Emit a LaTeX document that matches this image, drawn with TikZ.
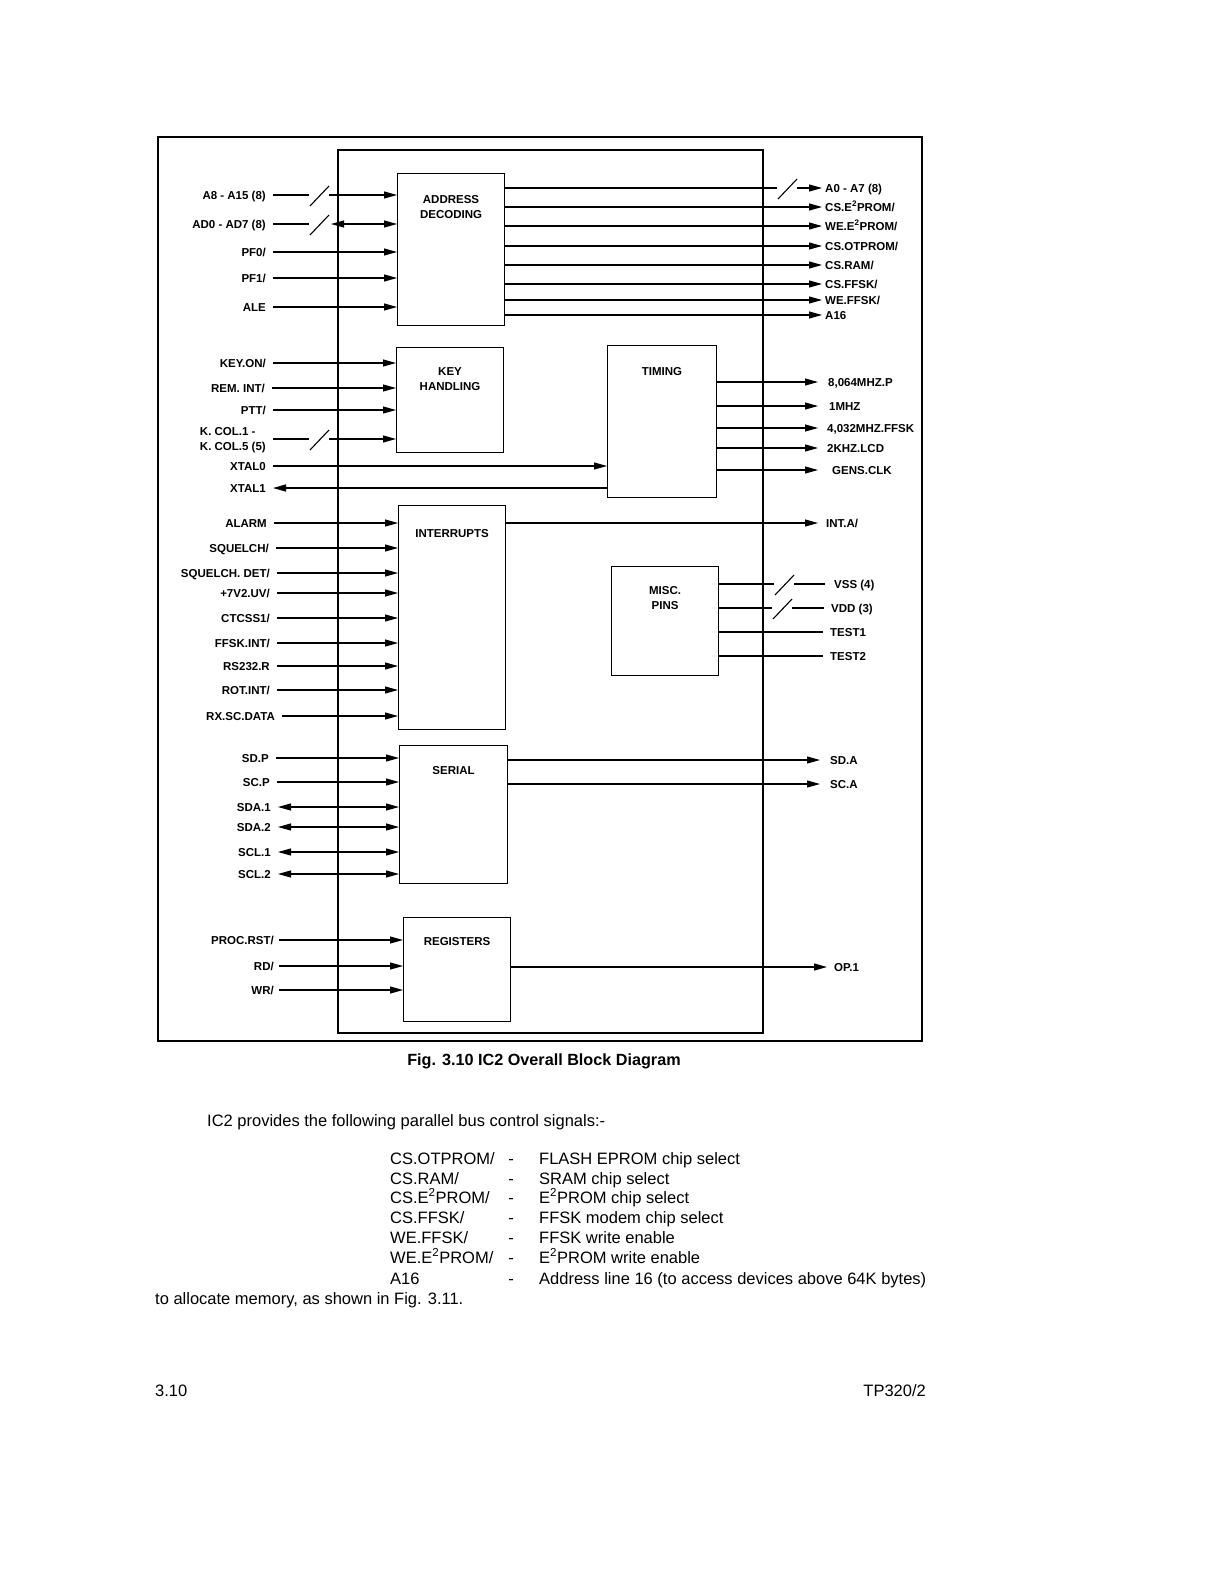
\documentclass[tikz,border=0pt]{standalone}
\usepackage{fontspec}
\setmainfont{Liberation Sans}
\usetikzlibrary{arrows.meta,positioning}

\begin{document}
\begin{tikzpicture}[
  x=1pt, y=-1pt,
  wire/.style={line width=1.1pt},
  arr/.style={wire, -{Triangle[length=13pt,width=7pt]}},
  biarr/.style={wire, {Triangle[length=13pt,width=7pt]}-{Triangle[length=13pt,width=7pt]}},
  larr/.style={wire, {Triangle[length=13pt,width=7pt]}-},
  blk/.style={draw, line width=1.1pt, anchor=north west, minimum width=107pt,
    inner sep=0pt},
  blktxt/.style={font=\bfseries\fontsize{11.5}{15}\selectfont, align=center,
    inner sep=0pt},
  inlbl/.style={anchor=east, font=\bfseries\fontsize{11.5}{15}\selectfont,
    inner xsep=7pt, inner ysep=1pt, text height=8pt, text depth=0pt},
  outlbl/.style={anchor=west, font=\bfseries\fontsize{11.5}{15}\selectfont,
    inner xsep=3pt, inner ysep=1pt, text height=8pt, text depth=0pt},
  body/.style={anchor=base west, font=\fontsize{16.5}{19}\selectfont, inner sep=0pt},
  busslash/.pic={\fill[white] (-10,-2.5) rectangle (10,2.5);
    \draw[wire] (-9,11) -- (10,-9);},
]
\useasboundingbox (0,0) rectangle (1224,1584);

% frames
\draw[line width=1.2pt] (158,137) rectangle (922,1041);
\draw[line width=1.1pt] (338,150) rectangle (763,1033);

% blocks
\node[blk, minimum height=152pt] (adec) at (397,173) {};
\node[blk, minimum height=105pt] (keyh) at (396,347) {};
\node[blk, minimum width=109pt, minimum height=152pt] (tim) at (607,345) {};
\node[blk, minimum height=224pt] (intr) at (398,505) {};
\node[blk, minimum height=109pt] (misc) at (611,566) {};
\node[blk, minimum width=108pt, minimum height=138pt] (ser) at (399,745) {};
\node[blk, minimum height=104pt] (regs) at (403,917) {};

\node[blktxt, below=22pt of adec.north] (t-adec) {ADDRESS\\DECODING};
\node[blktxt, below=20pt of keyh.north] (t-keyh) {KEY\\HANDLING};
\node[blktxt, below=22pt of tim.north] (t-tim) {TIMING};
\node[blktxt, below=24pt of intr.north] (t-intr) {INTERRUPTS};
\node[blktxt, below=20pt of misc.north] (t-misc) {MISC.\\PINS};
\node[blktxt, below=21pt of ser.north] (t-ser) {SERIAL};
\node[blktxt, below=20pt of regs.north] (t-regs) {REGISTERS};

% bus slash positions
\coordinate (s-a8) at (319,195);
\coordinate (s-ad) at (319,224);
\coordinate (s-kcol) at (319,439);
\coordinate (s-a0) at (787,188);
\coordinate (s-vss) at (784,584);
\coordinate (s-vdd) at (782,608);

% address decoding
\node[inlbl] (l-a8) at (273,195) {A8 - A15 (8)};
\node[inlbl] (l-ad) at (273,224) {AD0 - AD7 (8)};
\node[inlbl] (l-pf0) at (273,252) {PF0/};
\node[inlbl] (l-pf1) at (273,278) {PF1/};
\node[inlbl] (l-ale) at (273,307) {ALE};
\draw[arr] (l-a8.east) -- (l-a8.east -| adec.west);
\pic at (s-a8) {busslash};
\draw[wire] (l-ad.east) -- (s-ad);
\pic at (s-ad) {busslash};
\draw[biarr] ([xshift=12pt]s-ad) -- (s-ad -| adec.west);
\draw[arr] (l-pf0.east) -- (l-pf0.east -| adec.west);
\draw[arr] (l-pf1.east) -- (l-pf1.east -| adec.west);
\draw[arr] (l-ale.east) -- (l-ale.east -| adec.west);

\node[outlbl] (o-a0) at (822,188) {A0 - A7 (8)};
\node[outlbl] (o-cse) at (822,207) {CS.E\textsuperscript{2}PROM/};
\node[outlbl] (o-wee) at (822,226) {WE.E\textsuperscript{2}PROM/};
\node[outlbl] (o-cso) at (822,246) {CS.OTPROM/};
\node[outlbl] (o-csr) at (822,265) {CS.RAM/};
\node[outlbl] (o-csf) at (822,284) {CS.FFSK/};
\node[outlbl] (o-wef) at (822,300) {WE.FFSK/};
\node[outlbl] (o-a16) at (822,315) {A16};
\draw[arr] (adec.east |- o-a0.west) -- (o-a0.west);
\pic at (s-a0) {busslash};
\draw[arr] (adec.east |- o-cse.west) -- (o-cse.west);
\draw[arr] (adec.east |- o-wee.west) -- (o-wee.west);
\draw[arr] (adec.east |- o-cso.west) -- (o-cso.west);
\draw[arr] (adec.east |- o-csr.west) -- (o-csr.west);
\draw[arr] (adec.east |- o-csf.west) -- (o-csf.west);
\draw[arr] (adec.east |- o-wef.west) -- (o-wef.west);
\draw[arr] (adec.east |- o-a16.west) -- (o-a16.west);

% key handling
\node[inlbl] (l-keyon) at (273,363) {KEY.ON/};
\node[inlbl] (l-rem) at (272,388) {REM. INT/};
\node[inlbl] (l-ptt) at (273,410) {PTT/};
\node[inlbl, align=left, text height=23pt] (l-kcol) at (273,439) {K. COL.1 -\\K. COL.5 (5)};
\draw[arr] (l-keyon.east) -- (l-keyon.east -| keyh.west);
\draw[arr] (l-rem.east) -- (l-rem.east -| keyh.west);
\draw[arr] (l-ptt.east) -- (l-ptt.east -| keyh.west);
\draw[arr] (l-kcol.east) -- (l-kcol.east -| keyh.west);
\pic at (s-kcol) {busslash};

% timing
\node[inlbl] (l-x0) at (273,466) {XTAL0};
\node[inlbl] (l-x1) at (273,488) {XTAL1};
\draw[arr] (l-x0.east) -- (l-x0.east -| tim.west);
\draw[larr] (l-x1.east) -- (l-x1.east -| tim.west);

\node[outlbl, inner xsep=10pt] (o-8m) at (818,382) {8,064MHZ.P};
\node[outlbl, inner xsep=11pt] (o-1m) at (818,406) {1MHZ};
\node[outlbl, inner xsep=9pt] (o-4m) at (818,428) {4,032MHZ.FFSK};
\node[outlbl, inner xsep=9pt] (o-2k) at (818,448) {2KHZ.LCD};
\node[outlbl, inner xsep=14pt] (o-gen) at (818,470) {GENS.CLK};
\draw[arr] (tim.east |- o-8m.west) -- (o-8m.west);
\draw[arr] (tim.east |- o-1m.west) -- (o-1m.west);
\draw[arr] (tim.east |- o-4m.west) -- (o-4m.west);
\draw[arr] (tim.east |- o-2k.west) -- (o-2k.west);
\draw[arr] (tim.east |- o-gen.west) -- (o-gen.west);

% interrupts
\node[inlbl] (l-alarm) at (274,523) {ALARM};
\node[inlbl] (l-sq) at (276,548) {SQUELCH/};
\node[inlbl] (l-sqd) at (277,573) {SQUELCH. DET/};
\node[inlbl] (l-uv) at (277,593) {+7V2.UV/};
\node[inlbl] (l-ctc) at (277,618) {CTCSS1/};
\node[inlbl] (l-ffi) at (277,643) {FFSK.INT/};
\node[inlbl] (l-rs) at (277,666) {RS232.R};
\node[inlbl] (l-rot) at (277,690) {ROT.INT/};
\node[inlbl] (l-rx) at (282,716) {RX.SC.DATA};
\draw[arr] (l-alarm.east) -- (l-alarm.east -| intr.west);
\draw[arr] (l-sq.east) -- (l-sq.east -| intr.west);
\draw[arr] (l-sqd.east) -- (l-sqd.east -| intr.west);
\draw[arr] (l-uv.east) -- (l-uv.east -| intr.west);
\draw[arr] (l-ctc.east) -- (l-ctc.east -| intr.west);
\draw[arr] (l-ffi.east) -- (l-ffi.east -| intr.west);
\draw[arr] (l-rs.east) -- (l-rs.east -| intr.west);
\draw[arr] (l-rot.east) -- (l-rot.east -| intr.west);
\draw[arr] (l-rx.east) -- (l-rx.east -| intr.west);

\node[outlbl, inner xsep=8pt] (o-inta) at (818,523) {INT.A/};
\draw[arr] (intr.east |- o-inta.west) -- (o-inta.west);

% misc pins
\node[outlbl, inner xsep=9pt] (o-vss) at (825,584) {VSS (4)};
\node[outlbl, inner xsep=7pt] (o-vdd) at (824,608) {VDD (3)};
\node[outlbl, inner xsep=7pt] (o-t1) at (823,632) {TEST1};
\node[outlbl, inner xsep=7pt] (o-t2) at (823,656) {TEST2};
\draw[wire] (misc.east |- o-vss.west) -- (o-vss.west);
\pic at (s-vss) {busslash};
\draw[wire] (misc.east |- o-vdd.west) -- (o-vdd.west);
\pic at (s-vdd) {busslash};
\draw[wire] (misc.east |- o-t1.west) -- (o-t1.west);
\draw[wire] (misc.east |- o-t2.west) -- (o-t2.west);

% serial
\node[inlbl] (l-sdp) at (276,758) {SD.P};
\node[inlbl] (l-scp) at (277,782) {SC.P};
\node[inlbl] (l-sda1) at (278,807) {SDA.1};
\node[inlbl] (l-sda2) at (278,827) {SDA.2};
\node[inlbl] (l-scl1) at (278,852) {SCL.1};
\node[inlbl] (l-scl2) at (278,874) {SCL.2};
\draw[arr] (l-sdp.east) -- (l-sdp.east -| ser.west);
\draw[arr] (l-scp.east) -- (l-scp.east -| ser.west);
\draw[biarr] (l-sda1.east) -- (l-sda1.east -| ser.west);
\draw[biarr] (l-sda2.east) -- (l-sda2.east -| ser.west);
\draw[biarr] (l-scl1.east) -- (l-scl1.east -| ser.west);
\draw[biarr] (l-scl2.east) -- (l-scl2.east -| ser.west);

\node[outlbl, inner xsep=10pt] (o-sda) at (820,760) {SD.A};
\node[outlbl, inner xsep=10pt] (o-sca) at (820,784) {SC.A};
\draw[arr] (ser.east |- o-sda.west) -- (o-sda.west);
\draw[arr] (ser.east |- o-sca.west) -- (o-sca.west);

% registers
\node[inlbl, inner xsep=5pt] (l-rst) at (279,940) {PROC.RST/};
\node[inlbl, inner xsep=5pt] (l-rd) at (279,966) {RD/};
\node[inlbl, inner xsep=5pt] (l-wr) at (279,990) {WR/};
\draw[arr] (l-rst.east) -- (l-rst.east -| regs.west);
\draw[arr] (l-rd.east) -- (l-rd.east -| regs.west);
\draw[arr] (l-wr.east) -- (l-wr.east -| regs.west);

\node[outlbl, inner xsep=7pt] (o-op1) at (827,967) {OP.1};
\draw[arr] (regs.east |- o-op1.west) -- (o-op1.west);

% caption and text
\node[font=\bfseries\fontsize{16.2}{19}\selectfont, anchor=base, inner sep=0pt]
  (cap) at (544,1065) {Fig. 3.10 IC2 Overall Block Diagram};
\node[body] (intro) at (207,1126) {IC2 provides the following parallel bus control signals:-};

\node[body] (n1) at (390,1164) {CS.OTPROM/};
\node[body, anchor=base] (d1) at (511,1164) {-};
\node[body] (e1) at (539,1164) {FLASH EPROM chip select};
\node[body] (n2) at (390,1184) {CS.RAM/};
\node[body, anchor=base] (d2) at (511,1184) {-};
\node[body] (e2) at (539,1184) {SRAM chip select};
\node[body] (n3) at (390,1203) {CS.E\textsuperscript{2}PROM/};
\node[body, anchor=base] (d3) at (511,1203) {-};
\node[body] (e3) at (539,1203) {E\textsuperscript{2}PROM chip select};
\node[body] (n4) at (390,1223) {CS.FFSK/};
\node[body, anchor=base] (d4) at (511,1223) {-};
\node[body] (e4) at (539,1223) {FFSK modem chip select};
\node[body] (n5) at (390,1243) {WE.FFSK/};
\node[body, anchor=base] (d5) at (511,1243) {-};
\node[body] (e5) at (539,1243) {FFSK write enable};
\node[body] (n6) at (390,1263) {WE.E\textsuperscript{2}PROM/};
\node[body, anchor=base] (d6) at (511,1263) {-};
\node[body] (e6) at (539,1263) {E\textsuperscript{2}PROM write enable};
\node[body] (n7) at (390,1284) {A16};
\node[body, anchor=base] (d7) at (511,1284) {-};
\node[body] (e7) at (539,1284) {Address line 16 (to access devices above 64K bytes)};
\node[body] (outro) at (155,1304) {to allocate memory, as shown in Fig. 3.11.};

% page footer
\node[body] (pg) at (155,1396) {3.10};
\node[body, anchor=base east] (docno) at (926,1396) {TP320/2};
\end{tikzpicture}
\end{document}
